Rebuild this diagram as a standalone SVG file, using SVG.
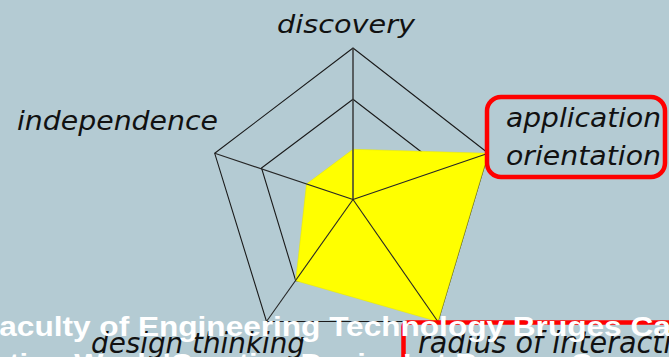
<svg xmlns="http://www.w3.org/2000/svg" width="669" height="357" viewBox="0 0 669 357">
<style>
.grid{fill:none;stroke:#1a1a1a;stroke-width:1.1;stroke-linejoin:miter}
.axis{fill:none;stroke:#262626;stroke-width:1.1}
.lbl{font-family:"DejaVu Sans","Liberation Sans",sans-serif;font-style:italic;fill:#111}
.box{fill:none;stroke:#ff0000;stroke-width:4.5}
.cap{font-family:"Liberation Sans",Arial,sans-serif;font-weight:bold;fill:#ffffff;font-size:28.5px}
</style>
<rect x="0" y="0" width="669" height="357" fill="#b4cbd3"/>
<g id="grid">
  <polygon class="grid" points="353,48 488.3,153.3 438,321.5 266.5,321.5 214.7,153.3"/>
  <polygon class="grid" points="353,99.3 443.2,168.7 409.7,281 295.7,280.7 261.5,168"/>
</g>
<g id="data">
  <polygon points="353,149.3 488.3,153.3 438,321.7 295.7,280.7 306.5,184" fill="#ffff00" stroke="#e6e600" stroke-width="0.5"/>
</g>
<g id="connectors">
  <line class="axis" x1="353" y1="199.5" x2="353" y2="48" style="stroke:#3a3a3a;stroke-width:1.5"/>
  <line class="axis" x1="353" y1="199.5" x2="488.3" y2="153.3"/>
  <line class="axis" x1="353" y1="199.5" x2="438" y2="321.7"/>
  <line class="axis" x1="353" y1="199.5" x2="266.5" y2="321.5"/>
  <line class="axis" x1="353" y1="199.5" x2="214.7" y2="153.3"/>
</g>
<g id="node-discovery">
  <text class="lbl" x="277" y="32.5" font-size="25" textLength="138" lengthAdjust="spacingAndGlyphs">discovery</text>
</g>
<g id="node-independence">
  <text class="lbl" x="17" y="129.5" font-size="26" textLength="201" lengthAdjust="spacingAndGlyphs">independence</text>
</g>
<g id="node-application-orientation">
  <rect class="box" x="487" y="97" width="178" height="80" rx="14"/>
  <text class="lbl" x="506" y="127" font-size="26" textLength="155" lengthAdjust="spacingAndGlyphs">application</text>
  <text class="lbl" x="506" y="164.5" font-size="26" textLength="155" lengthAdjust="spacingAndGlyphs">orientation</text>
</g>
<g id="node-design-thinking">
  <text class="lbl" x="91" y="352.5" font-size="29" textLength="214" lengthAdjust="spacingAndGlyphs">design thinking</text>
</g>
<g id="node-radius-of-interaction">
  <rect class="box" x="403.5" y="322.5" width="300" height="60" rx="4"/>
  <text class="lbl" x="418" y="352.5" font-size="30" textLength="289" lengthAdjust="spacingAndGlyphs">radius of interaction</text>
</g>
<g id="caption">
  <text class="cap" x="-20" y="335.5" textLength="775" lengthAdjust="spacingAndGlyphs">Faculty of Engineering Technology Bruges Campus</text>
  <text class="cap" x="-8" y="373" textLength="700" lengthAdjust="spacingAndGlyphs">ation Week 'Creative Design' at Bruges Campus</text>
</g>
</svg>
